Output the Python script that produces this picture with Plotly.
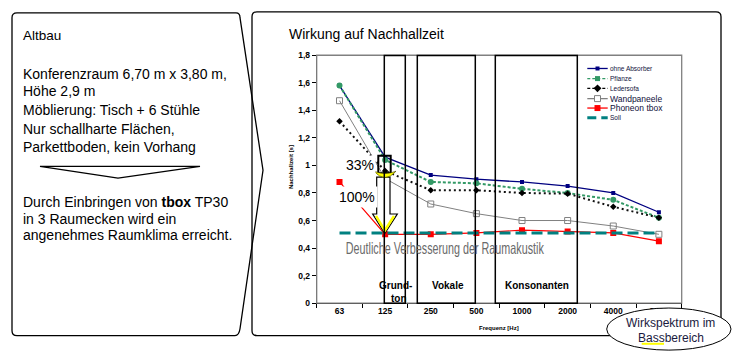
import plotly.graph_objects as go

W, H = 742, 359
FONT = "Liberation Sans, Arial, sans-serif"

# ---------------- data ----------------
freq = ["63", "125", "250", "500", "1000", "2000", "4000", "8000"]
ohne_absorber = [1.58, 1.06, 0.93, 0.90, 0.88, 0.85, 0.80, 0.66]
pflanze = [1.58, 1.04, 0.88, 0.87, 0.83, 0.80, 0.75, 0.62]
ledersofa = [1.32, 0.96, 0.82, 0.82, 0.80, 0.795, 0.70, 0.62]
wandpaneele = [1.47, 0.905, 0.72, 0.65, 0.60, 0.60, 0.56, 0.50]
phoneon_tbox = [0.88, 0.50, 0.50, 0.51, 0.53, 0.52, 0.51, 0.45]
soll = [0.51, 0.51, 0.51, 0.51, 0.51, 0.51, 0.51, 0.51]
y_tickvals = [0, 0.2, 0.4, 0.6, 0.8, 1.0, 1.2, 1.4, 1.6, 1.8]
y_ticktext = ["0", "0,2", "0,4", "0,6", "0,8", "1", "1,2", "1,4", "1,6", "1,8"]

NAVY = "#000080"
GREEN = "#339966"
GRAY = "#808080"
RED = "#ff0000"
TEAL = "#008080"

fig = go.Figure()

series = [
    ("ohne Absorber", ohne_absorber, dict(color=NAVY, width=1.3), dict(symbol="square", size=4, color=NAVY)),
    ("Pflanze", pflanze, dict(color=GREEN, width=2, dash="3px,2px"), dict(symbol="circle", size=6, color=GREEN)),
    ("Ledersofa", ledersofa, dict(color="#111111", width=2, dash="2px,3px"), dict(symbol="diamond", size=5, color="black")),
    ("Wandpaneele", wandpaneele, dict(color=GRAY, width=1), dict(symbol="square-open", size=6, color=GRAY, line=dict(width=1, color=GRAY))),
    ("Phoneon tbox", phoneon_tbox, dict(color=RED, width=1.2), dict(symbol="square", size=6, color=RED)),
]
for name, vals, ln, mk in series:
    fig.add_trace(go.Scatter(x=freq, y=vals, name=name, mode="lines+markers",
                             line=ln, marker=mk, xaxis="x", yaxis="y"))
fig.add_trace(go.Scatter(x=freq, y=soll, name="Soll", mode="lines",
                         line=dict(color=TEAL, width=3, dash="11px,5px"), xaxis="x", yaxis="y"))

# ---------------- legend samples (pixel overlay axes) ----------------
LX0, LX1, LXM = 587.3, 607.7, 597.5
leg_rows = [65.3, 75.7, 85.7, 96.3, 106.0, 116.0]
leg_styles = [
    (dict(color=NAVY, width=1.3), dict(symbol="square", size=4, color=NAVY)),
    (dict(color=GREEN, width=1.3, dash="3px,2px"), dict(symbol="square", size=5, color=GREEN)),
    (dict(color="black", width=1.3, dash="3px,2px"), dict(symbol="diamond", size=6, color="black")),
    (dict(color=GRAY, width=1.3), dict(symbol="square", size=6, color="white", line=dict(width=1, color=GRAY))),
    (dict(color=RED, width=1.3), dict(symbol="square", size=6, color=RED)),
    (dict(color=TEAL, width=3, dash="9px,5px"), None),
]
for yy, (ln, mk) in zip(leg_rows, leg_styles):
    fig.add_trace(go.Scatter(x=[LX0, LX1], y=[yy, yy], mode="lines", line=ln,
                             xaxis="x2", yaxis="y2", hoverinfo="skip"))
    if mk is not None:
        fig.add_trace(go.Scatter(x=[LXM], y=[yy], mode="markers", marker=mk,
                                 xaxis="x2", yaxis="y2", hoverinfo="skip"))

# ---------------- shapes ----------------
shapes = []

def S(**kw):
    d = dict(xref="x2", yref="y2", layer="above")
    d.update(kw)
    shapes.append(d)

# left card with chevron right edge
S(type="path", path="M17,8 L236,8 Q240,8 240,13 L263,170 L240,333 Q239,340 235,340 L17,340 Q12,340 12,335 L12,13 Q12,8 17,8 Z",
  line=dict(color="black", width=1.3))
# small flat triangle divider in left card
S(type="path", path="M40,166 L200,166 L118,178 Z", line=dict(color="black", width=1.2))
# right panel
S(type="path", path="M257,7 L716,7 Q721,7 721,12 L721,335 Q721,340 716,340 L257,340 Q252,340 252,335 L252,12 Q252,7 257,7 Z",
  line=dict(color="black", width=1.3))
# plot border (grey top/right)
S(type="rect", x0=316.7, x1=681.7, y0=51.7, y1=306.7, line=dict(color=GRAY, width=1.3), layer="below")
# big arrow
S(type="path", path="M376.7,177 L390,177 L390,215 L397.3,215 L384.8,235 L372.7,215 L376.7,215 Z",
  fillcolor="white", line=dict(color="black", width=1.2))
S(type="path", path="M376,217 L384.8,232 L394,217", line=dict(color="#ffff00", width=2.5))
# small box + yellow head
S(type="rect", x0=378.3, x1=390.7, y0=155, y1=173, line=dict(color="black", width=2))
S(type="path", path="M374,171 Q385,184 396,171 Q385,175.5 374,171 Z",
  fillcolor="#ffff00", line=dict(color="#333300", width=0.6))
# frequency band boxes
for x0, x1 in [(384.3, 405.3), (417.3, 475.3), (495.3, 577.3)]:
    S(type="rect", x0=x0, x1=x1, y0=52, y1=306.7, line=dict(color="black", width=1.5))
# ellipse
S(type="circle", x0=606.7, x1=731, y0=311.7, y1=355, fillcolor="white", line=dict(color="black", width=1))
# yellow underline
S(type="line", x0=641.7, x1=664, y0=348.5, y1=348.5, line=dict(color="#ffff00", width=2))

# ---------------- annotations ----------------
anns = []

def T(x, y, text, size, color="black", xanchor="left", family=FONT, bold=False, **kw):
    d = dict(xref="x2", yref="y2", x=x, y=y, text=text, showarrow=False, xanchor=xanchor,
             yanchor="middle", font=dict(size=size, color=color, family=family,
                                          weight="bold" if bold else "normal"))
    d.update(kw)
    anns.append(d)

# left card text
T(21, 31, "Altbau", 13.5)
T(21, 71, "Konferenzraum 6,70 m x 3,80 m,", 14)
T(21, 88, "Höhe 2,9 m", 14)
T(21, 108, "Möblierung: Tisch + 6 Stühle", 14)
T(21, 128, "Nur schallharte Flächen,", 14)
T(21, 146, "Parkettboden, kein Vorhang", 14)
T(21, 203, "Durch Einbringen von <b>tbox</b> TP30", 14)
T(21, 220, "in 3 Raumecken wird ein", 14)
T(21, 237, "angenehmes Raumklima erreicht.", 14)

# right panel
T(287, 30, "Wirkung auf Nachhallzeit", 14)
T(291.7, 167, "Nachhallzeit [s]", 6, bold=True, xanchor="center", textangle=-90)
T(499, 332, "Frequenz [Hz]", 6, bold=True, xanchor="center")
T(395.8, 288.5, "Grund-", 10, bold=True, xanchor="center")
T(398.5, 301.5, "ton", 10, bold=True, xanchor="center")
T(448.3, 288.5, "Vokale", 10, bold=True, xanchor="center")
T(536.7, 288.5, "Konsonanten", 10, bold=True, xanchor="center")
T(444.5, 250, "Deutliche Verbesserung der Raumakustik", 16.5, color="#6a6a6a", xanchor="center")
T(359.7, 165, "33%", 14, xanchor="center", bgcolor="white", borderpad=1)
T(356.5, 198, "100%", 14, xanchor="center", bgcolor="white", borderpad=2)

# legend text
leg_names = ["ohne Absorber", "Pflanze", "Ledersofa", "Wandpaneele", "Phoneon tbox", "Soll"]
leg_sizes = [6.5, 6.5, 6.5, 8.5, 8.5, 6.5]
for nm, yy, sz in zip(leg_names, leg_rows, leg_sizes):
    T(607.5, yy, nm, sz, color="#10103a")

# ellipse text
T(670.5, 327.5, "Wirkspektrum im", 12, color="#1a1a40", xanchor="center")
T(670.5, 342.5, "Bassbereich", 12, color="#1a1a40", xanchor="center")

fig.update_layout(
    width=W, height=H, margin=dict(l=0, r=0, t=0, b=0),
    paper_bgcolor="white", plot_bgcolor="rgba(0,0,0,0)",
    showlegend=False, separators=",.", font=dict(family=FONT, color="black"),
    shapes=shapes, annotations=anns,
    xaxis=dict(domain=[316.7 / W, 681.7 / W], type="category", range=[-0.5, 7.5],
               tickson="boundaries", ticks="outside", ticklen=4, tickcolor="black",
               showline=True, linecolor="black", linewidth=1, showgrid=False, zeroline=False,
               tickfont=dict(size=8.5, color="black", family=FONT, weight="bold"),
               anchor="y", fixedrange=True),
    yaxis=dict(domain=[1 - 306.7 / H, 1 - 51.7 / H], range=[0, 1.8],
               tickvals=y_tickvals, ticktext=y_ticktext, ticks="outside", ticklen=4,
               tickcolor="black", showline=True, linecolor="black", linewidth=1,
               showgrid=False, zeroline=False,
               tickfont=dict(size=8.5, color="black", family=FONT, weight="bold"),
               anchor="x", fixedrange=True),
    xaxis2=dict(domain=[0, 1], range=[0, W], visible=False, anchor="y2", fixedrange=True),
    yaxis2=dict(domain=[0, 1], range=[H, 0], visible=False, anchor="x2", fixedrange=True),
)

post = """
document.body.style.margin='0px';
document.body.style.padding='0px';
document.body.style.overflow='hidden';
var ts = document.querySelectorAll('text');
for (var i = 0; i < ts.length; i++) {
  if (ts[i].textContent.indexOf('Deutliche') === 0) {
    ts[i].setAttribute('textLength', '198');
    ts[i].setAttribute('lengthAdjust', 'spacingAndGlyphs');
  }
}
"""

fig.write_html("out.html", post_script=post, config={"displayModeBar": False, "responsive": False})
